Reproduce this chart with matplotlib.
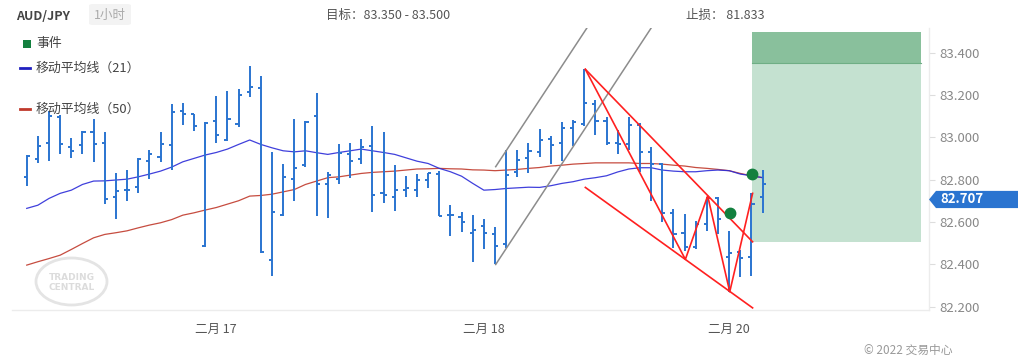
import matplotlib
matplotlib.use('Agg')
import matplotlib.pyplot as plt
from matplotlib.patches import Rectangle, Ellipse, Polygon, FancyBboxPatch
from matplotlib.lines import Line2D
from matplotlib.transforms import blended_transform_factory
import numpy as np

plt.rcParams['font.family'] = ['Noto Sans CJK SC', 'DejaVu Sans']

# ---------------- data ----------------
symbol = 'AUD/JPY'
timeframe = '1小时'
target_text = '目标：83.350 - 83.500'
stop_text = '止损： 81.833'
target_low = 83.350
target_high = 83.500
zone_low = 82.507
last_price = 82.707

opens = [82.811, 82.898, 82.976, 83.098, 82.953, 82.964, 83.024, 82.976, 82.721, 82.754,
         82.764, 82.890, 82.906, 82.964, 83.123, 83.109, 82.485, 83.080, 82.988, 83.063,
         83.213, 83.232, 82.419, 82.636, 82.802, 82.868, 83.099, 82.780, 82.806, 82.924,
         82.896, 82.959, 82.739, 82.717, 82.754, 82.754, 82.799, 82.827, 82.633, 82.625,
         82.547, 82.581, 82.542, 82.496, 82.835, 82.901, 82.932, 82.991, 82.972, 83.047,
         83.062, 83.156, 83.079, 82.976, 82.967, 83.058, 82.929, 82.873, 82.641, 82.547,
         82.481, 82.589, 82.712, 82.436, 82.457, 82.433, 82.717]
highs = [82.917, 83.006, 83.124, 83.106, 82.999, 83.030, 83.087, 83.027, 82.830, 82.846,
         82.904, 82.943, 83.027, 83.158, 83.161, 83.109, 83.071, 83.195, 83.219, 83.228,
         83.337, 83.290, 82.931, 82.874, 83.087, 83.077, 83.208, 82.835, 82.967, 82.972,
         82.992, 83.054, 83.025, 82.869, 82.817, 82.827, 82.830, 82.841, 82.680, 82.649,
         82.636, 82.613, 82.578, 82.940, 82.940, 82.972, 83.039, 83.008, 83.071, 83.082,
         83.321, 83.176, 83.098, 83.035, 83.098, 83.066, 82.953, 82.877, 82.662, 82.638,
         82.605, 82.720, 82.717, 82.558, 82.468, 82.740, 82.846]
lows = [82.772, 82.877, 82.888, 82.920, 82.901, 82.920, 82.885, 82.685, 82.613, 82.701,
        82.740, 82.802, 82.882, 82.846, 83.058, 83.032, 82.482, 82.975, 82.984, 83.050,
        83.192, 82.455, 82.347, 82.630, 82.701, 82.862, 82.630, 82.618, 82.778, 82.810,
        82.873, 82.649, 82.691, 82.654, 82.720, 82.720, 82.762, 82.629, 82.536, 82.555,
        82.410, 82.471, 82.400, 82.479, 82.814, 82.830, 82.909, 82.874, 82.888, 82.959,
        83.055, 83.011, 82.964, 82.920, 82.940, 82.835, 82.701, 82.602, 82.479, 82.465,
        82.471, 82.559, 82.542, 82.271, 82.342, 82.345, 82.641]
closes = [82.913, 82.959, 83.102, 82.967, 82.937, 83.025, 82.967, 82.709, 82.747, 82.754,
          82.898, 82.921, 82.967, 83.118, 83.109, 83.052, 83.068, 83.010, 83.085, 83.202,
          83.236, 82.458, 82.647, 82.811, 82.858, 83.074, 82.780, 82.822, 82.928, 82.891,
          82.953, 82.726, 82.726, 82.754, 82.759, 82.797, 82.830, 82.629, 82.632, 82.602,
          82.563, 82.551, 82.485, 82.822, 82.895, 82.934, 82.989, 82.964, 83.046, 83.074,
          83.161, 83.079, 82.972, 82.969, 83.057, 82.929, 82.873, 82.641, 82.542, 82.481,
          82.589, 82.712, 82.617, 82.452, 82.432, 82.688, 82.780]
ma21 = [82.665, 82.680, 82.712, 82.736, 82.751, 82.778, 82.794, 82.795, 82.799, 82.803,
        82.814, 82.827, 82.841, 82.860, 82.885, 82.901, 82.917, 82.929, 82.945, 82.967,
        82.988, 82.967, 82.951, 82.937, 82.932, 82.937, 82.928, 82.920, 82.929, 82.937,
        82.945, 82.937, 82.929, 82.920, 82.904, 82.888, 82.877, 82.854, 82.838, 82.817,
        82.783, 82.751, 82.754, 82.759, 82.762, 82.765, 82.764, 82.772, 82.783, 82.791,
        82.803, 82.810, 82.819, 82.837, 82.851, 82.857, 82.857, 82.846, 82.841, 82.838,
        82.838, 82.843, 82.846, 82.843, 82.827, 82.819, 82.810]
ma50 = [82.397, 82.413, 82.428, 82.444, 82.471, 82.499, 82.526, 82.542, 82.550, 82.559,
        82.573, 82.586, 82.597, 82.612, 82.633, 82.644, 82.657, 82.669, 82.685, 82.701,
        82.723, 82.726, 82.732, 82.743, 82.754, 82.778, 82.794, 82.810, 82.814, 82.822,
        82.830, 82.835, 82.838, 82.841, 82.846, 82.851, 82.852, 82.854, 82.852, 82.851,
        82.847, 82.846, 82.843, 82.846, 82.849, 82.854, 82.858, 82.865, 82.869, 82.874,
        82.877, 82.880, 82.880, 82.880, 82.880, 82.877, 82.877, 82.874, 82.869, 82.865,
        82.858, 82.854, 82.849, 82.843, 82.830, 82.819, 82.810]

price_ticks = [82.2, 82.4, 82.6, 82.8, 83.0, 83.2, 83.4]
date_ticks = [17, 41, 63]
date_labels = ['二月 17', '二月 18', '二月 20']

event_x = [63.07, 65.07]
event_y = [82.644, 82.826]

channel_lower_x = [42.06, 57.0]
channel_lower_y = [82.400, 83.597]
channel_upper_x = [42.06, 51.0]
channel_upper_y = [82.862, 83.578]

wedge_upper_x = [50.1, 65.1]
wedge_upper_y = [83.322, 82.507]
wedge_lower_x = [50.1, 65.1]
wedge_lower_y = [82.764, 82.195]
zigzag_x = [50.1, 59.07, 61.07, 63.05, 65.1]
zigzag_y = [83.322, 82.424, 82.724, 82.271, 82.736]

zone_x0, zone_x1 = 65.05, 80.2

# ---------------- figure ----------------
W, H = 1018, 364
fig = plt.figure(figsize=(W / 100, H / 100), dpi=100)
fig.patch.set_facecolor('white')

def fx(px):
    return px / W

def fy(py):
    return 1 - py / H

ax = fig.add_axes([fx(12), fy(310), fx(929) - fx(12), fy(28) - fy(310)])
ax.set_xlim(-1.32, 80.92)
ax.set_ylim(82.185, 83.517)

# target zone
ax.add_patch(Rectangle((zone_x0, zone_low), zone_x1 - zone_x0, target_low - zone_low,
                       facecolor='#c4e1d0', edgecolor='none', zorder=0))
ax.add_patch(Rectangle((zone_x0, target_low), zone_x1 - zone_x0, target_high - target_low,
                       facecolor='#89c09c', edgecolor='none', zorder=0))
ax.plot([zone_x0, zone_x1], [target_low, target_low], color='#6fae85', lw=0.8, zorder=0.5)

# moving averages
x = np.arange(len(closes))
ax.plot(x, ma50, color='#c0392b', lw=0.9, zorder=2, alpha=0.9)
ax.plot(x, ma21, color='#2b2bd8', lw=0.9, zorder=2, alpha=0.9)

# OHLC bars
bar_color = '#2a74d0'
tk = 0.28
ax.vlines(x, lows, highs, color=bar_color, lw=1.4, zorder=3)
ax.hlines(opens, x - tk, x, color=bar_color, lw=1.4, zorder=3)
ax.hlines(closes, x, x + tk, color=bar_color, lw=1.4, zorder=3)

# channel
ax.plot(channel_lower_x, channel_lower_y, color='#8c8c8c', lw=1.1, zorder=4)
ax.plot(channel_upper_x, channel_upper_y, color='#8c8c8c', lw=1.1, zorder=4)

# wedge pattern
red = '#ff2020'
ax.plot(wedge_upper_x, wedge_upper_y, color=red, lw=1.2, zorder=4)
ax.plot(wedge_lower_x, wedge_lower_y, color=red, lw=1.2, zorder=4)
ax.plot(zigzag_x, zigzag_y, color=red, lw=1.2, zorder=4)

# events
ax.plot(event_x, event_y, 'o', color='#13803f', markersize=7.5, zorder=5)

# axes styling
for s in ['top', 'left']:
    ax.spines[s].set_visible(False)
for s in ['bottom', 'right']:
    ax.spines[s].set_color('#ececec')
    ax.spines[s].set_linewidth(1.0)
ax.yaxis.tick_right()
ax.set_yticks(price_ticks)
ax.set_yticklabels([f'{v:.3f}' for v in price_ticks])
ax.tick_params(axis='y', length=4.3, width=0.8, color='#dddddd', pad=3.5,
               labelsize=9.5, labelcolor='#888888')
ax.set_xticks(date_ticks)
ax.set_xticklabels(date_labels)
ax.tick_params(axis='x', length=0, pad=9, labelsize=9, labelcolor='#555555')

# price label
trans = blended_transform_factory(fig.transFigure, ax.transData)
hh = 8.6 / 211.7
ax.add_patch(Polygon([(fx(929), last_price), (fx(936), last_price + hh), (1.0, last_price + hh),
                      (1.0, last_price - hh), (fx(936), last_price - hh)],
                     closed=True, facecolor='#2a74d0', edgecolor='none',
                     transform=trans, clip_on=False, zorder=6))
ax.text(fx(940), last_price, f'{last_price:.3f}', transform=trans, color='white',
        fontsize=9.5, fontweight='bold', va='center', ha='left', zorder=7, clip_on=False)

# header
fig.text(fx(16), fy(16), symbol, fontsize=9, fontweight='bold', color='#444444',
         va='center', ha='left')
fig.patches.append(FancyBboxPatch((fx(89), fy(25)), fx(42), fy(4) - fy(25),
                                  boxstyle='round,pad=0,rounding_size=0.004',
                                  facecolor='#f3f3f3', edgecolor='none',
                                  transform=fig.transFigure, figure=fig))
fig.text(fx(110), fy(15), timeframe, fontsize=9, color='#aaaaaa', va='center', ha='center')
fig.text(fx(326), fy(15), target_text, fontsize=9, color='#555555', va='center', ha='left')
fig.text(fx(686), fy(15), stop_text, fontsize=9, color='#555555', va='center', ha='left')

# legend
fig.patches.append(Rectangle((fx(23), fy(47.5)), fx(7.5), fy(40) - fy(47.5),
                             facecolor='#13803f', edgecolor='none',
                             transform=fig.transFigure, figure=fig))
fig.text(fx(36), fy(44), '事件', fontsize=9.3, color='#444444', va='center', ha='left')
fig.lines.append(Line2D([fx(20), fx(30)], [fy(68), fy(68)], color='#2020c0', lw=2,
                        transform=fig.transFigure, figure=fig))
fig.text(fx(36), fy(68), '移动平均线（21）', fontsize=9.3, color='#444444', va='center', ha='left')
fig.lines.append(Line2D([fx(20), fx(30)], [fy(109), fy(109)], color='#c0392b', lw=2,
                        transform=fig.transFigure, figure=fig))
fig.text(fx(36), fy(109), '移动平均线（50）', fontsize=9.3, color='#444444', va='center', ha='left')

# watermark
fig.patches.append(Ellipse((fx(71.5), fy(281.5)), fx(71), fy(258) - fy(305), facecolor='none',
                           edgecolor='#e4e4e4', lw=2, transform=fig.transFigure, figure=fig))
fig.text(fx(71.5), fy(278), 'TRADING', fontsize=6.5, fontweight='bold', color='#dcdcdc',
         va='center', ha='center', family='DejaVu Sans')
fig.text(fx(71.5), fy(287.5), 'CENTRAL', fontsize=6.5, fontweight='bold', color='#dcdcdc',
         va='center', ha='center', family='DejaVu Sans')

# copyright
fig.text(fx(952), fy(350), '© 2022 交易中心', fontsize=8.5, color='#999999',
         va='center', ha='right')

fig.savefig('out.png', dpi=100, facecolor='white')
